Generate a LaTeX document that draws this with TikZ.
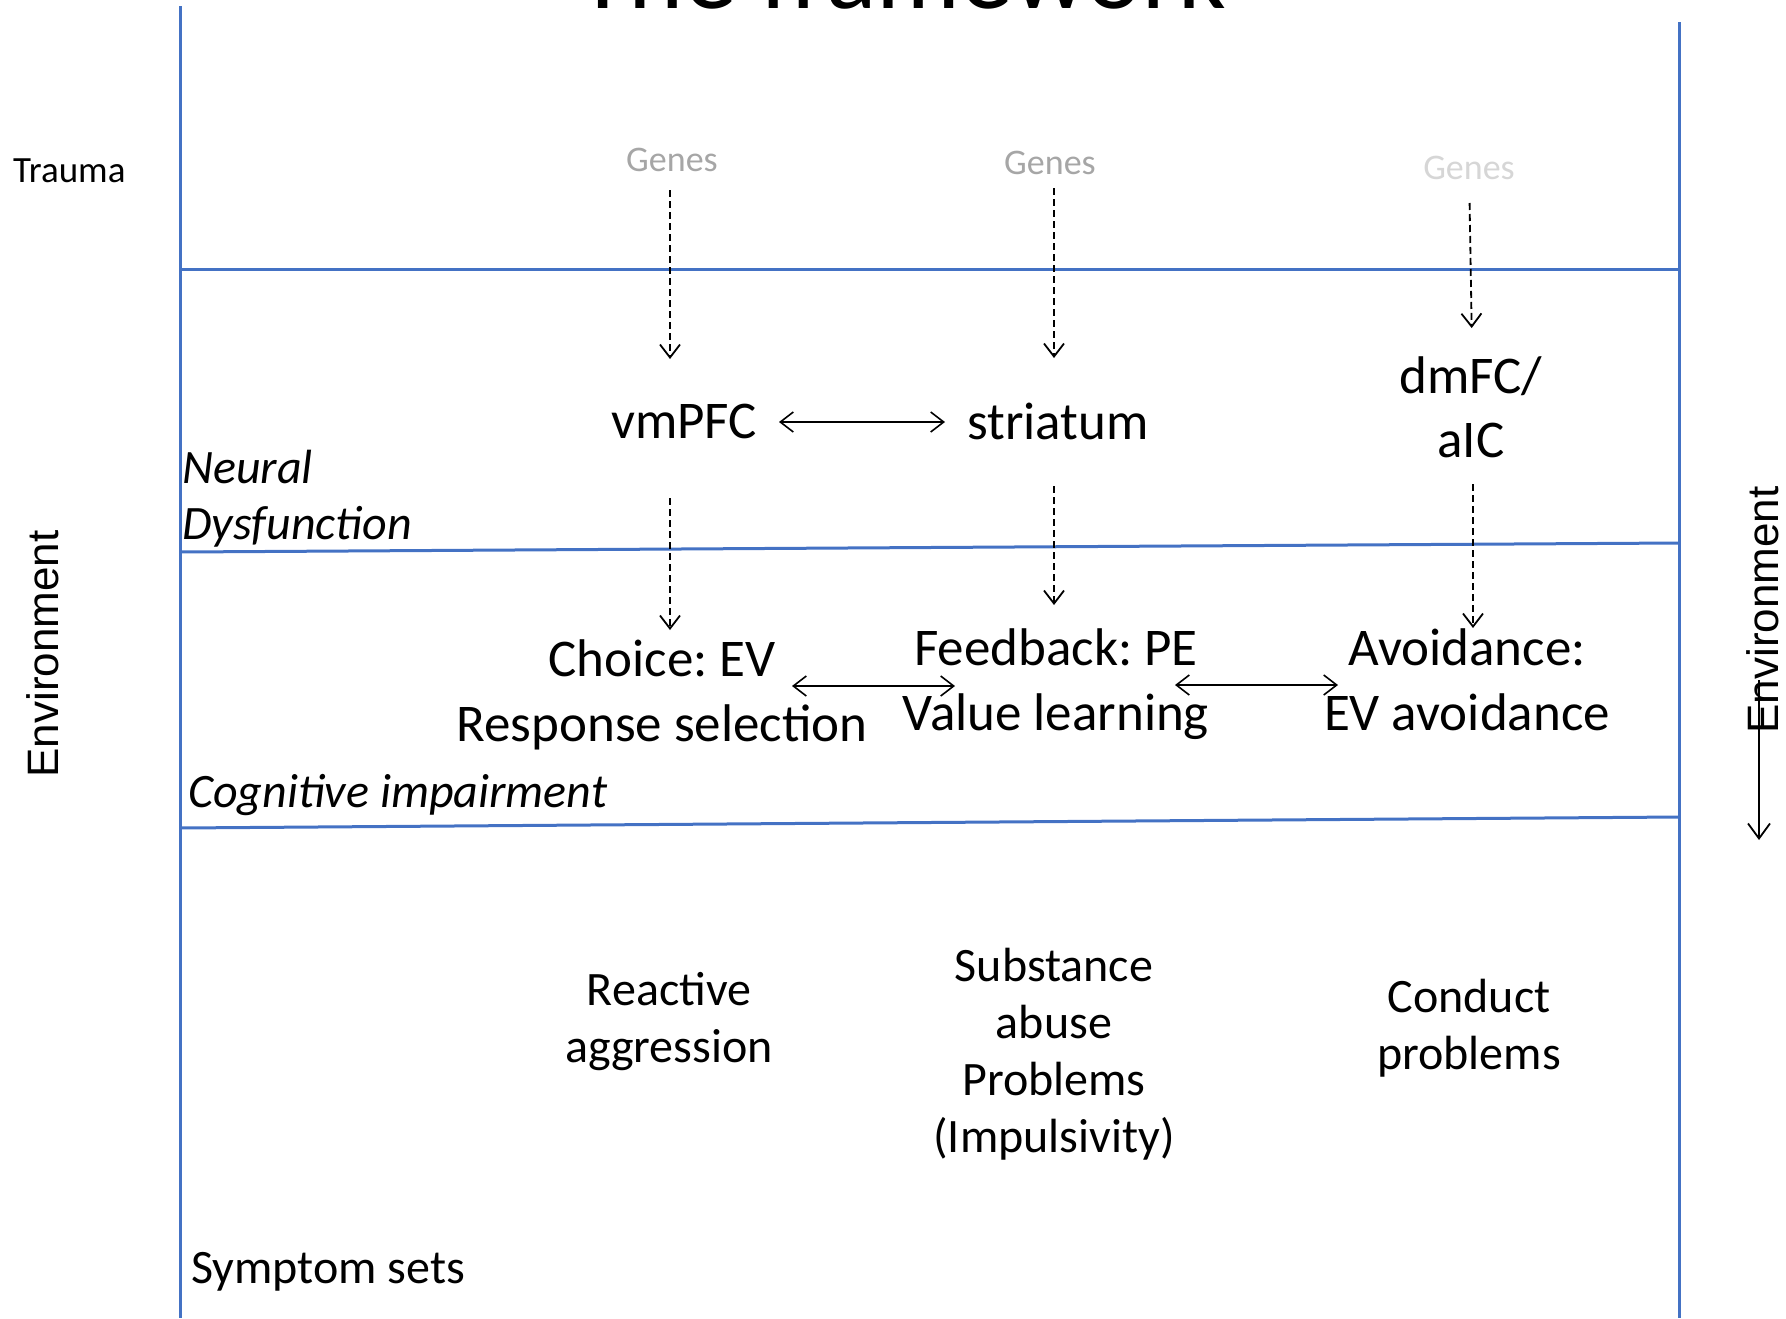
\documentclass[tikz,border=0pt]{standalone}
\usepackage{fontspec}
\setmainfont{Carlito}
\newfontfamily\envfont{Liberation Sans}
\usetikzlibrary{arrows.meta}
\frenchspacing
\definecolor{bandblue}{HTML}{4472C4}
\definecolor{genegrey}{HTML}{A6A6A6}
\definecolor{genelight}{HTML}{D6D6D6}
\tikzset{
  band/.style={draw=bandblue, line width=3pt},
  genetxt/.style={font=\fontsize{36}{43}\selectfont, inner sep=0pt},
  regiontxt/.style={font=\fontsize{53}{64}\selectfont, inner sep=0pt, align=center},
  cogtxt/.style={font=\fontsize{53}{65}\selectfont, inner sep=0pt, align=center},
  symtxt/.style={font=\fontsize{48}{57}\selectfont, inner sep=0pt, align=center},
  leveltxt/.style={font=\fontsize{48}{56}\selectfont\itshape, inner sep=0pt, align=left},
  envtxt/.style={font=\envfont\fontsize{44}{50}\selectfont, inner sep=0pt, rotate=90},
  dasharrow/.style={line width=1.8pt, dash pattern=on 7pt off 4pt,
    -{Straight Barb[length=13pt, width=20pt, line width=1.8pt]}},
  linkarrow/.style={line width=1.6pt,
    {Straight Barb[length=13pt, width=20pt, line width=1.6pt]}-{Straight Barb[length=13pt, width=20pt, line width=1.6pt]}},
  envarrow/.style={line width=1.8pt,
    -{Straight Barb[length=15pt, width=22pt, line width=1.8pt]}}
}
\begin{document}
\begin{tikzpicture}[x=1pt, y=-1pt]
\useasboundingbox (0,0) rectangle (1786,1318);

% title (runs off the top edge)
\node[anchor=base, inner sep=0pt, font=\fontsize{105}{120}\selectfont] (title) at (902,8) {The framework};

% frame and band lines
\draw[band] (180,6) -- (180,1318);
\draw[band] (1679,22) -- (1679,1318);
\draw[band] (180,269) -- (1679,269);
\draw[band] (180,552) -- (1679,543);
\draw[band] (180,828) -- (1679,817);

% side labels
\node[anchor=base west, inner sep=0pt, font=\fontsize{37}{43}\selectfont] (trauma) at (13,182) {Trauma};
\node[envtxt] (envL) at (43,654) {Environment};
\node[envtxt] (envR) at (1763,610) {Environment};
\coordinate (envtip) at (1759,840);
\draw[envarrow, shorten <=70pt] (envR.center -| envtip) -- (envtip);

% level names
\node[leveltxt, anchor=west] (neural) at (182,499) {Neural\\Dysfunction};
\node[leveltxt, anchor=west] (cog) at (188,795) {Cognitive impairment};
\node[anchor=west, inner sep=0pt, font=\fontsize{48}{57}\selectfont] (sym) at (191,1272) {Symptom sets};

% genes
\node[genetxt, text=genegrey] (g1) at (672,160) {Genes};
\node[genetxt, text=genegrey] (g2) at (1050,163) {Genes};
\node[genetxt, text=genelight] (g3) at (1469,168) {Genes};

% brain regions
\node[regiontxt] (vm) at (684,421) {vmPFC};
\node[regiontxt] (st) at (1058,421) {striatum};
\node[regiontxt] (dm) at (1471,407) {dmFC/\\aIC};

% cognitive processes
\node[cogtxt] (ch) at (662,695) {Choice: EV\\Response selection};
\node[cogtxt] (fb) at (1056,684) {Feedback: PE\\Value learning};
\node[cogtxt] (av) at (1467,680) {Avoidance:\\EV avoidance};

% symptoms
\node[symtxt] (ra) at (669,1022) {Reactive\\aggression};
\node[symtxt] (sa) at (1054,1054) {Substance\\abuse\\Problems\\(Impulsivity)};
\node[symtxt] (cp) at (1469,1028) {Conduct\\problems};

% genes to regions
\draw[dasharrow, shorten <=30pt, shorten >=62pt] ([xshift=-2pt]g1.center) -- ([xshift=-2pt]vm.center -| g1.center);
\draw[dasharrow, shorten <=25pt, shorten >=63pt] ([xshift=4pt]g2.center) -- ([xshift=4pt]st.center -| g2.center);
\draw[dasharrow, shorten <=35pt, shorten >=79pt] (g3.center) -- ([xshift=2pt]dm.center);

% regions to processes
\draw[dasharrow, shorten <=77pt, shorten >=65pt] ([xshift=-2pt]vm.center -| g1.center) -- ([xshift=-2pt]ch.center -| g1.center);
\draw[dasharrow, shorten <=65pt, shorten >=79pt] ([xshift=4pt]st.center -| g2.center) -- ([xshift=4pt]fb.center -| g2.center);
\draw[dasharrow, shorten <=77pt, shorten >=52pt] ([xshift=2pt]dm.center) -- ([xshift=2pt]av.center -| dm.center);

% reciprocal links
\draw[linkarrow, shorten <=95pt, shorten >=113pt] ([yshift=-1pt]vm.center) -- ([yshift=-1pt]st.center);
\draw[linkarrow, shorten <=130pt, shorten >=101pt] ([yshift=-2pt]fb.center -| ch.center) -- ([yshift=-2pt]fb.center);
\draw[linkarrow, shorten <=119pt, shorten >=129pt] ([yshift=-1pt]fb.center) -- ([yshift=-1pt]fb.center -| av.center);
\end{tikzpicture}
\end{document}
